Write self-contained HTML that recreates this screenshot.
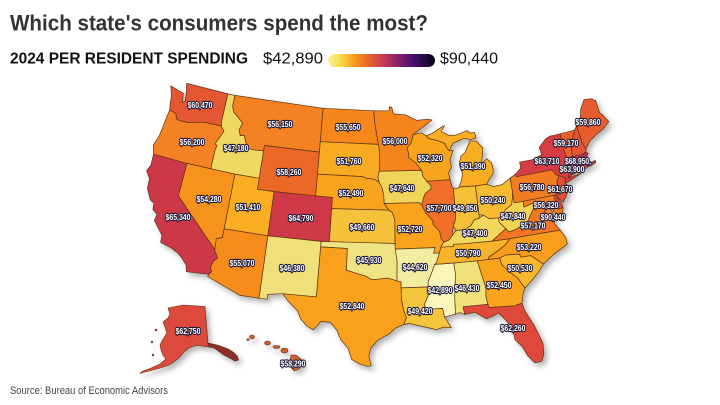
<!DOCTYPE html>
<html><head><meta charset="utf-8">
<style>
html,body{margin:0;padding:0;background:#fff;}
svg{display:block;}
.l{font-family:"Liberation Sans Narrow","Liberation Sans",sans-serif;font-weight:bold;font-size:8.6px;fill:#fff;stroke:#1d1b3a;stroke-width:2.3px;paint-order:stroke;stroke-linejoin:round;text-anchor:middle;}
</style></head>
<body>
<svg id="s" width="720" height="405" viewBox="0 0 720 405" xmlns="http://www.w3.org/2000/svg">
<defs>
<linearGradient id="lg" x1="0" x2="1" y1="0" y2="0">
<stop offset="0" stop-color="#f8f29a"/>
<stop offset="0.12" stop-color="#f9d94a"/>
<stop offset="0.25" stop-color="#f8981c"/>
<stop offset="0.4" stop-color="#e45c30"/>
<stop offset="0.53" stop-color="#c2385a"/>
<stop offset="0.66" stop-color="#83216c"/>
<stop offset="0.8" stop-color="#470f6a"/>
<stop offset="1" stop-color="#07051a"/>
</linearGradient>
<filter id="sh" x="-10%" y="-10%" width="130%" height="130%">
<feDropShadow dx="3" dy="3.5" stdDeviation="3" flood-color="#000" flood-opacity="0.3"/>
</filter>
</defs>
<rect width="720" height="405" fill="#fff"/>
<text x="10" y="30.5" font-family="Liberation Sans, sans-serif" font-weight="bold" font-size="22" fill="#333" textLength="418" lengthAdjust="spacingAndGlyphs">Which state's consumers spend the most?</text>
<text x="10" y="63.3" font-family="Liberation Sans Narrow, Liberation Sans, sans-serif" font-weight="bold" font-size="16" fill="#111" textLength="238" lengthAdjust="spacingAndGlyphs">2024 PER RESIDENT SPENDING</text>
<text x="263" y="63.3" font-family="Liberation Sans Narrow, Liberation Sans, sans-serif" font-size="16" fill="#111" textLength="60" lengthAdjust="spacingAndGlyphs">$42,890</text>
<rect x="328" y="54" width="107" height="13" rx="6.5" fill="url(#lg)"/>
<text x="440" y="63.3" font-family="Liberation Sans Narrow, Liberation Sans, sans-serif" font-size="16" fill="#111" textLength="58" lengthAdjust="spacingAndGlyphs">$90,440</text>

<g id="map" filter="url(#sh)" stroke="#5b3412" stroke-width="0.7" stroke-linejoin="round"></g>

<g filter="url(#sh)" stroke="#5b3412" stroke-width="0.6" stroke-linejoin="round">
<path fill="#dc4a3c" d="M168,308 L183,305 L205,306.5 L208,343 L212,344 L217,345 L223,347 L228,349 L233,352 L237,356 L238.5,360 L235,361 L230,358 L224,355 L219,351 L214,348 L209,347 L204,346.5 L199,345.5 L194,346 L189,348 L184,352 L180,357 L175,361 L170,364.5 L162,367.5 L153,370 L145,372 L140,373.5 L142,371.5 L150,368.5 L160,364 L166,359 L163,355 L161,350 L160,345 L163,339 L167,333 L165,327 L163,322 L168,318 L170,314 Z"/>
<path fill="#8e2d2a" d="M208,343 L217,345 L228,349 L237,356 L238.5,360 L235,361 L224,355 L214,348 L208,346.5 Z"/>
<circle cx="156" cy="330" r="1" fill="#dc4a3c"/>
<circle cx="152" cy="342" r="0.9" fill="#dc4a3c"/>
<circle cx="153" cy="355" r="0.9" fill="#dc4a3c"/>
<ellipse cx="252" cy="337" rx="2.5" ry="2" fill="#cf602d"/>
<ellipse cx="248" cy="339.5" rx="1.2" ry="1" fill="#cf602d"/>
<ellipse cx="267.5" cy="343" rx="3" ry="2" fill="#cf602d"/>
<ellipse cx="276.5" cy="347" rx="3.5" ry="1.4" fill="#cf602d"/>
<ellipse cx="284.5" cy="350.5" rx="3.5" ry="2.5" fill="#cf602d"/>
<path fill="#cf602d" d="M291,355 L296,355 L301,359 L303,364 L299,369 L294,371 L291,367 L290,361 Z"/>
</g>
<circle cx="545.4" cy="206.4" r="1.8" fill="#0b0724"/>

<g id="labels">
<text class="l" x="200" y="108" textLength="25" lengthAdjust="spacingAndGlyphs">$60,470</text>
<text class="l" x="192" y="145" textLength="25" lengthAdjust="spacingAndGlyphs">$56,200</text>
<text class="l" x="236" y="151" textLength="25" lengthAdjust="spacingAndGlyphs">$47,180</text>
<text class="l" x="280" y="127" textLength="25" lengthAdjust="spacingAndGlyphs">$56,150</text>
<text class="l" x="348" y="130" textLength="25" lengthAdjust="spacingAndGlyphs">$55,650</text>
<text class="l" x="395" y="144" textLength="25" lengthAdjust="spacingAndGlyphs">$56,000</text>
<text class="l" x="289" y="175" textLength="25" lengthAdjust="spacingAndGlyphs">$58,260</text>
<text class="l" x="349" y="164" textLength="25" lengthAdjust="spacingAndGlyphs">$51,760</text>
<text class="l" x="351" y="196" textLength="25" lengthAdjust="spacingAndGlyphs">$52,490</text>
<text class="l" x="402" y="191" textLength="25" lengthAdjust="spacingAndGlyphs">$47,640</text>
<text class="l" x="209" y="202" textLength="25" lengthAdjust="spacingAndGlyphs">$54,280</text>
<text class="l" x="248" y="210" textLength="25" lengthAdjust="spacingAndGlyphs">$51,410</text>
<text class="l" x="301" y="221" textLength="25" lengthAdjust="spacingAndGlyphs">$64,790</text>
<text class="l" x="178" y="220" textLength="25" lengthAdjust="spacingAndGlyphs">$65,340</text>
<text class="l" x="362" y="230" textLength="25" lengthAdjust="spacingAndGlyphs">$49,660</text>
<text class="l" x="410" y="232" textLength="25" lengthAdjust="spacingAndGlyphs">$52,720</text>
<text class="l" x="430" y="161" textLength="25" lengthAdjust="spacingAndGlyphs">$52,320</text>
<text class="l" x="473" y="169" textLength="25" lengthAdjust="spacingAndGlyphs">$51,390</text>
<text class="l" x="439" y="211" textLength="25" lengthAdjust="spacingAndGlyphs">$57,700</text>
<text class="l" x="465" y="211" textLength="25" lengthAdjust="spacingAndGlyphs">$49,850</text>
<text class="l" x="493" y="203" textLength="25" lengthAdjust="spacingAndGlyphs">$50,240</text>
<text class="l" x="532" y="190" textLength="25" lengthAdjust="spacingAndGlyphs">$56,780</text>
<text class="l" x="560" y="192" textLength="25" lengthAdjust="spacingAndGlyphs">$61,670</text>
<text class="l" x="547" y="164" textLength="25" lengthAdjust="spacingAndGlyphs">$63,710</text>
<text class="l" x="566" y="146" textLength="25" lengthAdjust="spacingAndGlyphs">$59,170</text>
<text class="l" x="578" y="164" textLength="26" lengthAdjust="spacingAndGlyphs">$68,950,</text>
<text class="l" x="572" y="172" textLength="25" lengthAdjust="spacingAndGlyphs">$63,900</text>
<text class="l" x="588" y="125" textLength="25" lengthAdjust="spacingAndGlyphs">$59,860</text>
<text class="l" x="513" y="219" textLength="25" lengthAdjust="spacingAndGlyphs">$47,840</text>
<text class="l" x="546" y="208" textLength="25" lengthAdjust="spacingAndGlyphs">$56,320</text>
<text class="l" x="553" y="220" textLength="25" lengthAdjust="spacingAndGlyphs">$90,440</text>
<text class="l" x="533" y="228.3" textLength="25" lengthAdjust="spacingAndGlyphs">$57,170</text>
<text class="l" x="475" y="236" textLength="25" lengthAdjust="spacingAndGlyphs">$47,400</text>
<text class="l" x="529" y="250" textLength="25" lengthAdjust="spacingAndGlyphs">$53,220</text>
<text class="l" x="468" y="256" textLength="25" lengthAdjust="spacingAndGlyphs">$50,790</text>
<text class="l" x="520" y="271" textLength="25" lengthAdjust="spacingAndGlyphs">$50,530</text>
<text class="l" x="499" y="288" textLength="25" lengthAdjust="spacingAndGlyphs">$52,450</text>
<text class="l" x="467" y="291" textLength="25" lengthAdjust="spacingAndGlyphs">$46,430</text>
<text class="l" x="440" y="293" textLength="25" lengthAdjust="spacingAndGlyphs">$42,890</text>
<text class="l" x="415" y="270" textLength="25" lengthAdjust="spacingAndGlyphs">$44,620</text>
<text class="l" x="369" y="263" textLength="25" lengthAdjust="spacingAndGlyphs">$45,930</text>
<text class="l" x="352" y="309" textLength="25" lengthAdjust="spacingAndGlyphs">$52,840</text>
<text class="l" x="420" y="314" textLength="25" lengthAdjust="spacingAndGlyphs">$49,420</text>
<text class="l" x="292" y="271" textLength="25" lengthAdjust="spacingAndGlyphs">$46,380</text>
<text class="l" x="242" y="266" textLength="25" lengthAdjust="spacingAndGlyphs">$55,070</text>
<text class="l" x="513" y="331" textLength="25" lengthAdjust="spacingAndGlyphs">$62,260</text>
<text class="l" x="188" y="334" textLength="25" lengthAdjust="spacingAndGlyphs">$62,750</text>
<text class="l" x="293" y="366.3" textLength="25" lengthAdjust="spacingAndGlyphs">$58,290</text>
</g>

<text x="10" y="394" font-family="Liberation Sans, sans-serif" font-size="11" fill="#444" textLength="158" lengthAdjust="spacingAndGlyphs">Source: Bureau of Economic Advisors</text>
</svg>
<script>
(function(){
var D=Math.PI/180;
var n=(Math.sin(29.5*D)+Math.sin(45.5*D))/2;
var C=Math.pow(Math.cos(29.5*D),2)+2*n*Math.sin(29.5*D);
function P(p){var th=n*(p[0]+96)*D;var r=Math.sqrt(C-2*n*Math.sin(p[1]*D))/n;
return [(382.9+641*r*Math.sin(th)).toFixed(1),(-585.6+632*r*Math.cos(th)).toFixed(1)];}
var stops=[[42890,'#f9f5bb'],[44600,'#f2eca0'],[46400,'#efe07a'],[47500,'#f1d65a'],[49700,'#f6c13a'],[51500,'#f8ac22'],[52800,'#f9a11b'],[54300,'#f7931a'],[56000,'#f5841f'],[57500,'#f07326'],[58300,'#ec6628'],[60000,'#e65a2f'],[62000,'#e04a38'],[64000,'#d33c45'],[65500,'#cc3649'],[69000,'#b42d58'],[75000,'#8a226a'],[82000,'#4d1168'],[90440,'#0b0724']];
function hx(h){return [parseInt(h.substr(1,2),16),parseInt(h.substr(3,2),16),parseInt(h.substr(5,2),16)];}
function col(v){if(v<=stops[0][0])return stops[0][1];
for(var i=1;i<stops.length;i++){if(v<=stops[i][0]){var a=hx(stops[i-1][1]),b=hx(stops[i][1]);var t=(v-stops[i-1][0])/(stops[i][0]-stops[i-1][0]);
return 'rgb('+Math.round(a[0]+(b[0]-a[0])*t)+','+Math.round(a[1]+(b[1]-a[1])*t)+','+Math.round(a[2]+(b[2]-a[2])*t)+')';}}
return stops[stops.length-1][1];}
var S={
WA:[60470,[[[-122.75,49],[-117.03,49],[-117.03,46.43],[-116.92,45.99],[-118.98,46.0],[-119.6,45.92],[-121.2,45.6],[-122.3,45.55],[-122.76,45.65],[-123.0,46.1],[-123.9,46.25],[-124.1,46.9],[-124.2,47.5],[-124.7,48.38],[-123.5,48.15],[-122.8,48.05],[-122.6,47.2],[-122.3,47.4],[-122.45,48.2],[-122.75,48.95]]]],
OR:[56200,[[[-124.2,42.0],[-120.0,42.0],[-117.03,42.0],[-117.03,43.8],[-116.9,44.2],[-117.2,44.3],[-116.45,45.6],[-116.92,45.99],[-118.98,46.0],[-119.6,45.92],[-121.2,45.6],[-122.3,45.55],[-122.76,45.65],[-123.0,46.1],[-123.9,46.25],[-124.0,45.5],[-124.1,44.5],[-124.2,43.7],[-124.55,42.8]]]],
ID:[47180,[[[-117.03,49],[-116.05,49],[-116.05,47.98],[-115.7,47.45],[-115.2,47.2],[-114.3,46.65],[-114.6,46.0],[-114.3,45.5],[-113.8,45.6],[-113.45,45.0],[-113.0,44.5],[-112.4,44.45],[-111.05,44.5],[-111.05,42.0],[-114.04,42.0],[-117.03,42.0],[-117.03,43.8],[-116.9,44.2],[-117.2,44.3],[-116.45,45.6],[-116.92,45.99],[-117.03,46.43]]]],
MT:[56150,[[[-116.05,49],[-104.05,49],[-104.05,45.0],[-111.05,45.0],[-111.05,44.5],[-112.4,44.45],[-113.0,44.5],[-113.45,45.0],[-113.8,45.6],[-114.3,45.5],[-114.6,46.0],[-114.3,46.65],[-115.2,47.2],[-115.7,47.45],[-116.05,47.98]]]],
WY:[58260,[[[-111.05,45.0],[-104.05,45.0],[-104.05,41.0],[-111.05,41.0]]]],
ND:[55650,[[[-104.05,49],[-97.23,49],[-97.1,48.0],[-96.85,47.0],[-96.6,46.0],[-96.56,45.94],[-104.05,45.94]]]],
SD:[51760,[[[-104.05,45.94],[-96.56,45.94],[-96.45,45.3],[-96.45,43.5],[-96.6,43.0],[-96.45,42.5],[-97.0,42.77],[-98.0,42.85],[-98.5,43.0],[-104.05,43.0]]]],
NE:[52490,[[[-104.05,43.0],[-98.5,43.0],[-98.0,42.85],[-97.0,42.77],[-96.45,42.5],[-96.1,42.0],[-95.9,41.4],[-95.85,40.6],[-95.3,40.0],[-102.05,40.0],[-102.05,41.0],[-104.05,41.0]]]],
CO:[64790,[[[-109.05,41.0],[-102.05,41.0],[-102.05,37.0],[-109.05,37.0]]]],
KS:[49660,[[[-102.05,40.0],[-95.3,40.0],[-94.9,39.8],[-94.6,39.1],[-94.62,37.0],[-102.05,37.0]]]],
OK:[45930,[[[-103.0,37.0],[-94.62,37.0],[-94.43,35.4],[-94.48,33.64],[-95.5,33.9],[-96.5,33.8],[-97.2,33.75],[-98.0,34.1],[-99.2,34.35],[-100.0,34.56],[-100.0,36.5],[-103.0,36.5]]]],
TX:[52840,[[[-103.0,36.5],[-100.0,36.5],[-100.0,34.56],[-99.2,34.35],[-98.0,34.1],[-97.2,33.75],[-96.5,33.8],[-95.5,33.9],[-94.48,33.64],[-94.04,33.55],[-94.04,32.0],[-93.83,31.0],[-93.55,30.3],[-93.84,29.7],[-94.7,29.4],[-95.3,28.9],[-96.5,28.3],[-97.2,27.6],[-97.4,26.8],[-97.15,25.95],[-97.5,25.9],[-98.3,26.1],[-99.1,26.5],[-99.5,27.5],[-100.3,28.3],[-100.7,29.1],[-101.4,29.77],[-102.4,29.8],[-103.1,29.0],[-103.8,29.3],[-104.5,29.9],[-104.9,30.6],[-106.0,31.4],[-106.6,32.0],[-103.06,32.0]]]],
NM:[46380,[[[-109.05,37.0],[-103.0,37.0],[-103.0,36.5],[-103.06,32.0],[-106.6,32.0],[-108.2,31.78],[-108.2,31.33],[-109.05,31.33]]]],
AZ:[55070,[[[-114.05,37.0],[-109.05,37.0],[-109.05,31.33],[-111.07,31.33],[-114.8,32.5],[-114.72,32.72],[-114.5,33.0],[-114.7,33.4],[-114.5,34.0],[-114.13,34.3],[-114.6,34.9],[-114.63,35.0],[-114.7,36.0],[-114.05,36.2]]]],
UT:[51410,[[[-114.04,42.0],[-111.05,42.0],[-111.05,41.0],[-109.05,41.0],[-109.05,37.0],[-114.05,37.0]]]],
NV:[54280,[[[-120.0,42.0],[-114.04,42.0],[-114.05,37.0],[-114.05,36.2],[-114.7,36.0],[-114.63,35.0],[-120.0,39.0]]]],
CA:[65340,[[[-124.2,42.0],[-120.0,42.0],[-120.0,39.0],[-114.63,35.0],[-114.6,34.9],[-114.13,34.3],[-114.5,34.0],[-114.7,33.4],[-114.5,33.0],[-114.72,32.72],[-117.12,32.53],[-117.3,33.1],[-118.0,33.7],[-118.5,34.0],[-119.3,34.3],[-120.6,34.55],[-120.65,35.2],[-121.9,36.3],[-121.8,36.9],[-122.4,37.2],[-122.5,37.8],[-123.0,38.0],[-123.7,38.9],[-123.8,39.8],[-124.4,40.4],[-124.1,41.0],[-124.2,42.0]]]],
MN:[56000,[[[-97.23,49.0],[-95.15,49.0],[-95.15,49.38],[-94.8,49.3],[-94.6,48.7],[-93.0,48.6],[-91.5,48.05],[-90.0,48.1],[-89.5,48.0],[-90.6,47.5],[-92.1,46.75],[-92.3,46.1],[-92.9,45.6],[-92.75,45.1],[-92.8,44.75],[-91.9,44.2],[-91.2,43.5],[-96.45,43.5],[-96.45,45.3],[-96.56,45.94],[-96.6,46.0],[-96.85,47.0],[-97.1,48.0]]]],
IA:[47640,[[[-96.45,43.5],[-91.2,43.5],[-91.1,43.0],[-90.65,42.5],[-90.2,42.1],[-90.15,41.8],[-90.9,41.4],[-91.1,41.1],[-91.4,40.4],[-91.7,40.6],[-95.85,40.6],[-95.9,41.4],[-96.1,42.0],[-96.45,42.5],[-96.6,43.0]]]],
MO:[52720,[[[-95.85,40.6],[-91.7,40.6],[-91.4,40.4],[-91.0,39.7],[-90.2,38.9],[-90.2,38.6],[-89.5,37.9],[-89.4,37.3],[-89.1,36.95],[-89.5,36.5],[-89.7,36.0],[-90.35,36.0],[-90.15,36.5],[-94.62,36.5],[-94.62,37.0],[-94.6,39.1],[-94.9,39.8],[-95.3,40.0]]]],
AR:[44620,[[[-94.62,36.5],[-90.15,36.5],[-90.35,36.0],[-89.7,36.0],[-90.1,35.1],[-90.3,35.0],[-90.6,34.4],[-91.1,33.5],[-91.15,33.0],[-94.04,33.0],[-94.04,33.55],[-94.48,33.64],[-94.43,35.4]]]],
LA:[49420,[[[-94.04,33.0],[-91.15,33.0],[-91.2,32.2],[-91.6,31.5],[-91.6,31.0],[-89.75,31.0],[-89.6,30.2],[-89.4,29.9],[-89.0,29.2],[-89.8,29.3],[-90.5,29.1],[-91.3,29.3],[-92.3,29.55],[-93.3,29.77],[-93.84,29.7],[-93.55,30.3],[-93.83,31.0],[-94.04,32.0]]]],
MS:[42890,[[[-91.15,33.0],[-91.1,33.5],[-90.6,34.4],[-90.3,35.0],[-88.2,35.0],[-88.1,34.0],[-88.4,31.9],[-88.45,30.4],[-89.6,30.2],[-89.75,31.0],[-91.6,31.0],[-91.6,31.5],[-91.2,32.2]]]],
AL:[46430,[[[-88.2,35.0],[-85.6,35.0],[-85.0,32.5],[-85.1,31.7],[-85.0,31.0],[-87.6,31.0],[-87.5,30.3],[-88.0,30.5],[-88.45,30.4],[-88.4,31.9],[-88.1,34.0]]]],
TN:[50790,[[[-90.3,35.0],[-90.1,35.1],[-89.7,36.0],[-89.5,36.5],[-88.05,36.5],[-88.05,36.68],[-87.0,36.65],[-83.7,36.6],[-81.65,36.6],[-82.3,36.1],[-83.1,35.7],[-84.3,35.2],[-84.32,35.0],[-85.6,35.0],[-88.2,35.0]]]],
KY:[47400,[[[-89.5,36.5],[-89.1,36.95],[-88.5,37.1],[-88.1,37.5],[-87.6,37.9],[-86.6,37.9],[-85.9,38.2],[-85.4,38.7],[-84.8,38.8],[-84.3,39.0],[-83.7,38.65],[-82.6,38.6],[-82.6,38.2],[-81.97,37.55],[-82.6,37.2],[-83.7,36.6],[-87.0,36.65],[-88.05,36.68],[-88.05,36.5]]]],
IL:[57700,[[[-90.65,42.5],[-87.8,42.5],[-87.6,41.8],[-87.5,41.7],[-87.5,39.4],[-87.6,38.8],[-87.9,38.3],[-88.1,37.5],[-88.5,37.1],[-89.1,36.95],[-89.4,37.3],[-89.5,37.9],[-90.2,38.6],[-90.2,38.9],[-91.0,39.7],[-91.4,40.4],[-91.1,41.1],[-90.9,41.4],[-90.15,41.8],[-90.2,42.1]]]],
IN:[49850,[[[-87.5,41.7],[-87.0,41.65],[-86.8,41.76],[-84.8,41.7],[-84.8,39.1],[-84.8,38.8],[-85.4,38.7],[-85.9,38.2],[-86.6,37.9],[-87.6,37.9],[-87.9,38.3],[-87.6,38.8],[-87.5,39.4]]]],
OH:[50240,[[[-84.8,41.7],[-83.45,41.73],[-82.7,41.45],[-81.6,41.5],[-80.52,41.98],[-80.52,40.64],[-80.6,40.3],[-80.85,39.6],[-81.7,39.2],[-82.2,38.6],[-82.6,38.6],[-83.7,38.65],[-84.3,39.0],[-84.8,39.1]]]],
MI:[51390,[[[-86.8,41.76],[-84.8,41.7],[-83.45,41.73],[-83.1,42.1],[-82.5,42.6],[-82.4,43.0],[-82.5,43.6],[-83.0,44.0],[-83.8,43.6],[-83.5,44.3],[-83.3,45.0],[-84.0,45.7],[-84.8,45.8],[-85.3,45.2],[-85.6,44.8],[-86.2,44.5],[-86.5,43.8],[-86.2,42.9],[-86.5,42.2]],[[-90.4,46.6],[-89.6,46.8],[-88.3,47.3],[-87.9,47.4],[-88.4,46.9],[-87.5,46.5],[-86.5,46.45],[-85.0,46.75],[-84.7,46.5],[-84.1,46.5],[-84.0,46.0],[-84.8,45.9],[-85.5,46.1],[-86.3,45.9],[-87.0,45.75],[-87.6,45.1],[-87.8,45.3],[-88.1,45.8],[-89.0,46.1],[-90.1,46.35]]]],
WI:[52320,[[[-92.1,46.75],[-91.0,46.9],[-90.4,46.6],[-90.1,46.35],[-89.0,46.1],[-88.1,45.8],[-87.8,45.3],[-87.6,45.1],[-87.1,45.1],[-87.6,44.3],[-87.5,43.6],[-87.9,43.1],[-87.8,42.5],[-90.65,42.5],[-91.1,43.0],[-91.2,43.5],[-91.9,44.2],[-92.8,44.75],[-92.75,45.1],[-92.9,45.6],[-92.3,46.1]]]],
WV:[47840,[[[-80.52,40.64],[-80.52,39.72],[-79.48,39.72],[-79.48,39.2],[-78.4,39.4],[-77.8,39.35],[-77.75,39.3],[-78.35,39.0],[-78.9,38.4],[-79.6,37.6],[-80.3,37.5],[-81.0,37.3],[-81.65,37.2],[-81.97,37.55],[-82.6,38.2],[-82.6,38.6],[-82.2,38.6],[-81.7,39.2],[-80.85,39.6],[-80.6,40.3]]]],
VA:[57170,[[[-83.7,36.6],[-82.6,37.2],[-81.97,37.55],[-81.65,37.2],[-81.0,37.3],[-80.3,37.5],[-79.6,37.6],[-78.9,38.4],[-78.35,39.0],[-77.75,39.3],[-77.1,38.9],[-77.0,38.7],[-77.3,38.4],[-76.9,38.1],[-76.3,37.9],[-76.4,37.2],[-75.95,36.55],[-81.65,36.6]]]],
NC:[53220,[[[-84.32,35.0],[-84.3,35.2],[-83.1,35.7],[-82.3,36.1],[-81.65,36.6],[-75.95,36.55],[-75.5,35.8],[-75.5,35.2],[-76.3,34.9],[-77.5,34.4],[-78.5,33.85],[-79.7,34.8],[-80.8,34.8],[-80.9,35.1],[-82.4,35.2],[-83.1,35.0]]]],
SC:[50530,[[[-83.1,35.0],[-82.4,35.2],[-80.9,35.1],[-80.8,34.8],[-79.7,34.8],[-78.5,33.85],[-79.2,33.2],[-80.0,32.6],[-80.9,32.0],[-81.5,33.0],[-82.2,33.6],[-83.0,34.4]]]],
GA:[52450,[[[-85.6,35.0],[-84.32,35.0],[-83.1,35.0],[-83.0,34.4],[-82.2,33.6],[-81.5,33.0],[-80.9,32.0],[-81.2,31.5],[-81.45,30.7],[-82.0,30.6],[-82.2,30.55],[-84.9,30.7],[-85.0,31.0],[-85.1,31.7],[-85.0,32.5]]]],
FL:[62260,[[[-87.6,31.0],[-85.0,31.0],[-84.9,30.7],[-82.2,30.55],[-82.0,30.6],[-81.45,30.7],[-81.3,30.0],[-80.6,28.6],[-80.0,26.8],[-80.1,25.8],[-80.4,25.2],[-81.1,25.15],[-81.7,25.9],[-82.1,26.8],[-82.7,27.5],[-82.8,28.5],[-83.3,29.3],[-84.0,30.1],[-84.4,29.95],[-85.3,29.7],[-86.4,30.4],[-87.5,30.3]]]],
PA:[56780,[[[-80.52,41.98],[-79.76,42.27],[-79.76,42.0],[-75.35,42.0],[-75.0,41.5],[-74.7,41.35],[-75.1,40.85],[-75.1,40.6],[-74.7,40.15],[-75.1,40.0],[-75.5,39.8],[-75.8,39.72],[-79.48,39.72],[-80.52,39.72],[-80.52,40.64]]]],
NY:[63710,[[[-79.76,42.0],[-79.76,42.27],[-79.05,42.7],[-79.05,43.25],[-77.5,43.25],[-76.2,43.5],[-76.3,44.2],[-75.3,44.85],[-74.7,45.0],[-73.35,45.0],[-73.35,44.3],[-73.4,43.6],[-73.25,42.75],[-73.5,42.05],[-73.5,41.1],[-73.7,40.95],[-72.0,41.1],[-73.9,40.58],[-74.2,40.6],[-74.0,41.0],[-74.7,41.35],[-75.0,41.5],[-75.35,42.0]]]],
NJ:[61670,[[[-74.7,41.35],[-74.0,41.0],[-74.2,40.6],[-74.0,40.4],[-74.1,39.8],[-74.4,39.4],[-74.95,38.93],[-75.5,39.6],[-75.1,40.0],[-74.7,40.15],[-75.1,40.6],[-75.1,40.85]]]],
DE:[62500,[[[-75.8,39.72],[-75.5,39.8],[-75.5,39.6],[-75.08,38.78],[-75.05,38.45],[-75.7,38.45]]]],
MD:[56320,[[[-79.48,39.72],[-75.8,39.72],[-75.7,38.45],[-75.05,38.45],[-75.25,38.03],[-75.9,37.95],[-76.2,38.3],[-76.4,39.2],[-76.5,38.6],[-76.3,38.05],[-76.9,38.1],[-77.3,38.4],[-77.0,38.7],[-77.1,38.9],[-77.75,39.3],[-77.8,39.35],[-78.4,39.4],[-79.48,39.2]]]],
VT:[59170,[[[-73.35,45.0],[-71.5,45.01],[-71.5,44.9],[-72.0,44.3],[-72.4,43.6],[-72.55,42.73],[-73.25,42.75],[-73.4,43.6],[-73.35,44.3]]]],
NH:[61000,[[[-71.5,45.01],[-71.1,45.3],[-71.0,44.5],[-70.98,43.8],[-70.7,43.1],[-70.8,42.87],[-71.3,42.7],[-72.55,42.73],[-72.4,43.6],[-72.0,44.3],[-71.5,44.9]]]],
ME:[59860,[[[-71.1,45.3],[-70.8,45.4],[-70.2,46.2],[-70.0,46.7],[-69.23,47.45],[-68.3,47.35],[-67.8,47.07],[-67.78,45.9],[-67.45,45.6],[-67.0,44.9],[-68.0,44.4],[-69.0,44.1],[-70.0,43.7],[-70.7,43.1],[-70.98,43.8],[-71.0,44.5]]]],
MA:[68950,[[[-73.5,42.05],[-73.25,42.75],[-72.55,42.73],[-71.3,42.7],[-70.8,42.87],[-70.6,42.65],[-71.0,42.3],[-70.5,41.8],[-70.0,41.9],[-70.0,41.7],[-70.6,41.55],[-71.1,41.5],[-71.4,42.0],[-71.8,42.02],[-72.8,42.04]]]],
RI:[61500,[[[-71.8,42.02],[-71.4,42.0],[-71.1,41.5],[-71.5,41.37],[-71.85,41.32]]]],
CT:[63900,[[[-73.5,42.05],[-72.8,42.04],[-71.8,42.02],[-71.85,41.32],[-72.5,41.27],[-73.1,41.15],[-73.7,40.95],[-73.5,41.1]]]]
};
var g=document.getElementById('map');var html='';
for(var k in S){var v=S[k][0],polys=S[k][1],d='';
for(var i=0;i<polys.length;i++){var pts=polys[i];for(var j=0;j<pts.length;j++){var q=P(pts[j]);d+=(j?'L':'M')+q[0]+','+q[1];}d+='Z';}
html+='<path d="'+d+'" fill="'+col(v)+'"/>';}
g.innerHTML=html;
})();
</script>
</body></html>
